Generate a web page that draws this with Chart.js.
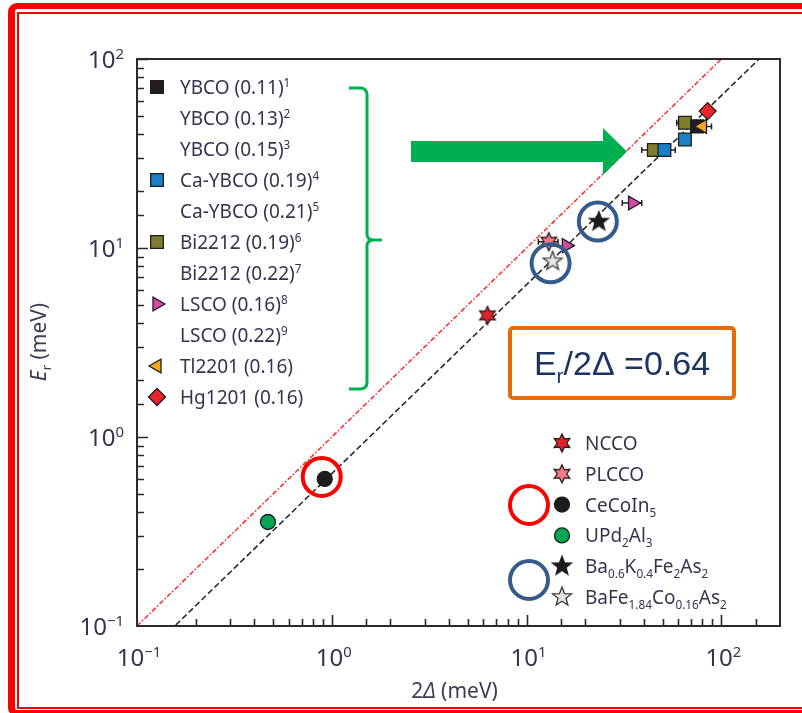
<!DOCTYPE html>
<html>
<head>
<meta charset="utf-8">
<script src="https://cdn.jsdelivr.net/npm/chart.js@4.4.0/dist/chart.umd.min.js"></script>
<style>
  html, body { margin: 0; padding: 0; background: #fff; }
  #wrap { position: relative; width: 802px; height: 713px; overflow: hidden; background: #fff; }
  #chart { position: absolute; left: 0; top: 0; }
  .frame { position: absolute; box-sizing: border-box; border-style: solid; border-color: #ff0000; pointer-events: none; }
  #frameOuter { left: 8px; top: 3px; width: 830px; height: 714px; border-width: 6px 7px 7px 7px; border-radius: 9px; }
  #frameInner { left: 17px; top: 12px; width: 820px; height: 697px; border-width: 2px; }
</style>
</head>
<body>
<div id="wrap">
  <canvas id="chart" width="802" height="713"></canvas>
  <div class="frame" id="frameOuter"></div>
  <div class="frame" id="frameInner"></div>
</div>
<script>
// ---------------------------------------------
// axes
// ---------------------------------------------
const X_MIN = 0.1, X_MAX = 200;
const Y_MIN = 0.1, Y_MAX = 100;
const DECADES = [0.1, 1, 10, 100];
const DECADE_EXP = ["\u22121", "0", "1", "2"];

// Er / 2Δ ratio of the fitted line, and the reference Er = 2Δ line
const FIT_RATIO = 0.64;
const LINE_X = [0.1, 200];

// ---------------------------------------------
// measured points (x = 2Δ, y = Er, meV), xErr = half width of the 2Δ bar
// ---------------------------------------------
const ybcoX = [75];          const ybcoY = [44];       const ybcoXErr = [14];
const caYbcoX = [51, 65];    const caYbcoY = [33, 37.5]; const caYbcoXErr = [7, 0];
const bi2212X = [45, 65];    const bi2212Y = [33, 46];   const bi2212XErr = [6, 6];
const lscoX = [16, 35];      const lscoY = [10.3, 17.3]; const lscoXErr = [0, 4];
const tl2201X = [80];        const tl2201Y = [44];
const hg1201X = [85];        const hg1201Y = [53];
const nccoX = [6.3];         const nccoY = [4.4];
const plccoX = [13];         const plccoY = [10.8];      const plccoXErr = [1.5];
const ceCoIn5X = [0.92];     const ceCoIn5Y = [0.60];
const upd2al3X = [0.47];     const upd2al3Y = [0.355];
const bakX = [23.5];         const bakY = [13.8];
const bafeX = [13.6];        const bafeY = [8.5];

// legend rows, cuprates (label, footnote, dataset key or null)
const cuprateRows = [
  ["YBCO (0.11)", "1", "ybco"],
  ["YBCO (0.13)", "2", null],
  ["YBCO (0.15)", "3", null],
  ["Ca-YBCO (0.19)", "4", "caYbco"],
  ["Ca-YBCO (0.21)", "5", null],
  ["Bi2212 (0.19)", "6", "bi2212"],
  ["Bi2212 (0.22)", "7", null],
  ["LSCO (0.16)", "8", "lsco"],
  ["LSCO (0.22)", "9", null],
  ["Tl2201 (0.16)", "", "tl2201"],
  ["Hg1201 (0.16)", "", "hg1201"]
];

// legend rows, other compounds ([text, kind] parts)
const otherRows = [
  ["ncco", [["NCCO", ""]]],
  ["plcco", [["PLCCO", ""]]],
  ["ceCoIn5", [["CeCoIn", ""], ["5", "sub"]]],
  ["upd2al3", [["UPd", ""], ["2", "sub"], ["Al", ""], ["3", "sub"]]],
  ["bak", [["Ba", ""], ["0.6", "sub"], ["K", ""], ["0.4", "sub"], ["Fe", ""], ["2", "sub"], ["As", ""], ["2", "sub"]]],
  ["bafe", [["BaFe", ""], ["1.84", "sub"], ["Co", ""], ["0.16", "sub"], ["As", ""], ["2", "sub"]]]
];

const FONT = '"Noto Sans", "DejaVu Sans", sans-serif';
const TEXT_COLOR = "#34344c";

const pts = (xs, ys, errs) => xs.map((x, i) => ({ x, y: ys[i], xErr: errs ? errs[i] : 0 }));

// filled star drawn once to an offscreen canvas and used as a pointStyle
function makeStar(n, outer, inner, fill, stroke) {
  const s = Math.ceil(outer * 2 + 4);
  const c = document.createElement("canvas");
  c.width = c.height = s;
  const g = c.getContext("2d");
  g.beginPath();
  for (let i = 0; i < n * 2; i++) {
    const r = i % 2 ? inner : outer;
    const a = -Math.PI / 2 + i * Math.PI / n;
    g.lineTo(s / 2 + r * Math.cos(a), s / 2 + r * Math.sin(a));
  }
  g.closePath();
  g.fillStyle = fill;
  g.fill();
  g.lineWidth = 1.3;
  g.strokeStyle = stroke;
  g.stroke();
  return c;
}

function markerSet(key, label, data, style, color, radius, rotation) {
  return {
    key, label, data, order: 0,
    pointStyle: style, pointRadius: radius, pointRotation: rotation || 0,
    backgroundColor: color, borderColor: "#1e1e1e", borderWidth: 1.3,
    showLine: false
  };
}

const datasets = [
  markerSet("hg1201", "Hg1201", pts(hg1201X, hg1201Y), "rectRot", "#e8242c", 8.5),
  markerSet("tl2201", "Tl2201", pts(tl2201X, tl2201Y), "triangle", "#f4a91c", 8, -90),
  markerSet("ybco", "YBCO", pts(ybcoX, ybcoY, ybcoXErr), "rect", "#231f20", 9),
  markerSet("caYbco", "Ca-YBCO", pts(caYbcoX, caYbcoY, caYbcoXErr), "rect", "#1a7fc4", 9),
  markerSet("bi2212", "Bi2212", pts(bi2212X, bi2212Y, bi2212XErr), "rect", "#7f7d2e", 9),
  markerSet("lsco", "LSCO", pts(lscoX, lscoY, lscoXErr), "triangle", "#d54aa6", 8, 90),
  markerSet("ncco", "NCCO", pts(nccoX, nccoY), makeStar(6, 9, 4.8, "#e0242c", "#2a1a1a"), "#e0242c", 8),
  markerSet("plcco", "PLCCO", pts(plccoX, plccoY, plccoXErr), makeStar(6, 9, 4.8, "#ee7a8a", "#2a1a1a"), "#ee7a8a", 8),
  markerSet("bak", "Ba0.6K0.4Fe2As2", pts(bakX, bakY), makeStar(5, 10, 4.2, "#1c1c1c", "#1c1c1c"), "#1c1c1c", 8),
  markerSet("bafe", "BaFe1.84Co0.16As2", pts(bafeX, bafeY), makeStar(5, 10, 4.2, "#e4e4e4", "#3a3a3a"), "#e4e4e4", 8),
  markerSet("ceCoIn5", "CeCoIn5", pts(ceCoIn5X, ceCoIn5Y), "circle", "#1c1c1c", 7.5),
  markerSet("upd2al3", "UPd2Al3", pts(upd2al3X, upd2al3Y), "circle", "#00a651", 7.5),
  {
    key: "ratio", label: "Er/2Δ", order: 10, showLine: true, pointRadius: 0,
    data: LINE_X.map(x => ({ x, y: FIT_RATIO * x })),
    borderColor: "#2b2b2b", borderWidth: 1.6, borderDash: [6, 3]
  },
  {
    key: "unity", label: "Er = 2Δ", order: 11, showLine: true, pointRadius: 0,
    data: LINE_X.map(x => ({ x, y: x })),
    borderColor: "#ff2a2a", borderWidth: 1.5, borderDash: [5, 2, 1.5, 2]
  }
];

const byKey = k => datasets.find(d => d.key === k);

// ---------------------------------------------
// text helpers (super / subscripts)
// ---------------------------------------------
function richWidth(ctx, parts, size) {
  let w = 0;
  parts.forEach(([t, kind]) => {
    const small = kind === "sup" || kind === "sub";
    ctx.font = `${kind === "it" ? "italic " : ""}${small ? size * 0.62 : size}px ${FONT}`;
    w += ctx.measureText(t).width;
  });
  return w;
}

function drawRich(ctx, parts, x, y, size) {
  let cx = x;
  parts.forEach(([t, kind]) => {
    const small = kind === "sup" || kind === "sub";
    ctx.font = `${kind === "it" ? "italic " : ""}${small ? size * 0.62 : size}px ${FONT}`;
    const dy = kind === "sup" ? -size * 0.36 : kind === "sub" ? size * 0.26 : 0;
    ctx.fillText(t, cx, y + dy);
    cx += ctx.measureText(t).width;
  });
}

function drawPointMarker(ctx, ds, x, y) {
  ctx.save();
  ctx.fillStyle = ds.backgroundColor;
  ctx.strokeStyle = ds.borderColor;
  ctx.lineWidth = ds.borderWidth;
  Chart.helpers.drawPoint(ctx, {
    pointStyle: ds.pointStyle, rotation: ds.pointRotation,
    radius: ds.pointRadius, borderWidth: ds.borderWidth
  }, x, y);
  ctx.restore();
}

// ---------------------------------------------
// horizontal 2Δ error bars, under the markers
// ---------------------------------------------
const errorBarPlugin = {
  id: "errorBarPlugin",
  beforeDatasetsDraw(chart) {
    const { ctx, scales: { x, y } } = chart;
    ctx.save();
    ctx.strokeStyle = "#1e1e1e";
    ctx.lineWidth = 1.5;
    chart.data.datasets.forEach(ds => {
      ds.data.forEach(p => {
        if (!p.xErr) return;
        const x0 = x.getPixelForValue(p.x - p.xErr);
        const x1 = x.getPixelForValue(p.x + p.xErr);
        const py = y.getPixelForValue(p.y);
        ctx.beginPath();
        ctx.moveTo(x0, py); ctx.lineTo(x1, py);
        ctx.moveTo(x0, py - 3); ctx.lineTo(x0, py + 3);
        ctx.moveTo(x1, py - 3); ctx.lineTo(x1, py + 3);
        ctx.stroke();
      });
    });
    ctx.restore();
  }
};

// ---------------------------------------------
// frame, inward ticks, tick labels, titles
// ---------------------------------------------
const axesPlugin = {
  id: "axesPlugin",
  afterDraw(chart) {
    const { ctx, chartArea: a, scales: { x, y } } = chart;
    const isMajor = v => Math.abs(Math.log10(v) - Math.round(Math.log10(v))) < 1e-6;

    ctx.save();
    ctx.strokeStyle = "#2a2a2a";
    ctx.lineWidth = 2;
    ctx.strokeRect(a.left, a.top, a.right - a.left, a.bottom - a.top);

    ctx.lineWidth = 1.6;
    ctx.beginPath();
    x.ticks.forEach(t => {
      if (t.value <= X_MIN || t.value >= X_MAX) return;
      const px = Math.round(x.getPixelForValue(t.value)) + 0.5;
      ctx.moveTo(px, a.bottom);
      ctx.lineTo(px, a.bottom - (isMajor(t.value) ? 11 : 7));
    });
    y.ticks.forEach(t => {
      if (t.value <= Y_MIN || t.value > Y_MAX) return;
      const py = Math.round(y.getPixelForValue(t.value)) + 0.5;
      ctx.moveTo(a.left, py);
      ctx.lineTo(a.left + (isMajor(t.value) ? 11 : 7), py);
    });
    ctx.stroke();

    // decade labels
    const size = 24;
    ctx.fillStyle = TEXT_COLOR;
    ctx.textBaseline = "alphabetic";
    ctx.textAlign = "left";
    DECADES.forEach((v, i) => {
      const parts = [["10", ""], [DECADE_EXP[i], "sup"]];
      const w = richWidth(ctx, parts, size);
      const px = x.getPixelForValue(v);
      drawRich(ctx, parts, px - w / 2 + 2, a.bottom + 40, size);
      const py = y.getPixelForValue(v);
      drawRich(ctx, parts, a.left - 13 - w, py + 9, size);
    });

    // axis titles
    const ts = 21;
    ctx.fillStyle = "#3c3c50";
    const xt = [["2", ""], ["\u0394", "it"], [" (meV)", ""]];
    const xw = richWidth(ctx, xt, ts);
    drawRich(ctx, xt, (a.left + a.right) / 2 - xw / 2 - 4, 698, ts);

    const yt = [["E", "it"], ["r", "sub"], [" (meV)", ""]];
    const yw = richWidth(ctx, yt, ts);
    ctx.translate(46, 342);
    ctx.rotate(-Math.PI / 2);
    drawRich(ctx, yt, -yw / 2, 0, ts);
    ctx.restore();
  }
};

// ---------------------------------------------
// legends, bracket, arrow, ratio box, rings
// ---------------------------------------------
const notesPlugin = {
  id: "notesPlugin",
  afterDraw(chart) {
    const { ctx, scales: { x, y } } = chart;
    ctx.save();
    ctx.textBaseline = "alphabetic";
    ctx.textAlign = "left";

    // cuprate legend
    const ls = 19;
    cuprateRows.forEach(([text, note, key], i) => {
      const ry = 87 + i * 31;
      if (key) drawPointMarker(ctx, byKey(key), 157, ry);
      ctx.fillStyle = TEXT_COLOR;
      const parts = [[text, ""]];
      if (note) parts.push([note, "sup"]);
      drawRich(ctx, parts, 180, ry + 7, ls);
    });

    // other compounds legend
    otherRows.forEach(([key, parts], i) => {
      const ry = 443 + i * 30.8;
      drawPointMarker(ctx, byKey(key), 562, ry);
      ctx.fillStyle = TEXT_COLOR;
      drawRich(ctx, parts, 585, ry + 7, ls);
    });

    // green brace grouping the cuprates
    ctx.strokeStyle = "#00b050";
    ctx.lineWidth = 3;
    ctx.lineJoin = "round";
    ctx.beginPath();
    ctx.moveTo(349, 88);
    ctx.lineTo(360, 88);
    ctx.quadraticCurveTo(367, 88, 367, 95);
    ctx.lineTo(367, 234);
    ctx.quadraticCurveTo(367, 240, 374, 240);
    ctx.lineTo(382, 240);
    ctx.moveTo(374, 240);
    ctx.quadraticCurveTo(367, 240, 367, 246);
    ctx.lineTo(367, 382);
    ctx.quadraticCurveTo(367, 389, 360, 389);
    ctx.lineTo(349, 389);
    ctx.stroke();

    // green arrow
    ctx.fillStyle = "#00b050";
    ctx.beginPath();
    ctx.moveTo(411, 141);
    ctx.lineTo(603, 141);
    ctx.lineTo(603, 128);
    ctx.lineTo(627, 151.5);
    ctx.lineTo(603, 175);
    ctx.lineTo(603, 162);
    ctx.lineTo(411, 162);
    ctx.closePath();
    ctx.fill();

    // ratio box
    ctx.strokeStyle = "#e46c0a";
    ctx.lineWidth = 4;
    ctx.beginPath();
    ctx.roundRect(510, 328, 224, 70, 3);
    ctx.fillStyle = "#fff";
    ctx.fill();
    ctx.stroke();
    ctx.fillStyle = "#1d3461";
    const bs = 34;
    const boxText = [["E", ""], ["r", "sub"], ["/2\u0394 =0.64", ""]];
    const drawBoxText = (parts, x0, y0) => {
      let cx = x0;
      parts.forEach(([t, kind]) => {
        const small = kind === "sub";
        ctx.font = `${small ? bs * 0.62 : bs}px "Liberation Sans", Arial, sans-serif`;
        ctx.fillText(t, cx, y0 + (small ? bs * 0.24 : 0));
        cx += ctx.measureText(t).width;
      });
      return cx - x0;
    };
    ctx.save();
    ctx.globalAlpha = 0;
    const bw = drawBoxText(boxText, 0, 0);
    ctx.restore();
    drawBoxText(boxText, 622 - bw / 2, 375);

    // rings marking the heavy-fermion and pnictide points
    const ring = (cx, cy, color) => {
      ctx.strokeStyle = color;
      ctx.lineWidth = 4;
      ctx.beginPath();
      ctx.arc(cx, cy, 19, 0, Math.PI * 2);
      ctx.stroke();
    };
    const red = "#ff0000", blue = "#345b8c";
    ring(x.getPixelForValue(ceCoIn5X[0]) - 3, y.getPixelForValue(ceCoIn5Y[0]) - 2, red);
    ring(x.getPixelForValue(bakX[0]) - 1, y.getPixelForValue(bakY[0]), blue);
    ring(x.getPixelForValue(bafeX[0]) - 2, y.getPixelForValue(bafeY[0]) + 2, blue);
    ring(529, 505, red);
    ring(529, 580, blue);
    ctx.restore();
  }
};

new Chart(document.getElementById("chart"), {
  type: "scatter",
  data: { datasets },
  options: {
    responsive: false,
    animation: false,
    events: [],
    layout: { padding: { left: 137, top: 59, right: 22, bottom: 87 } },
    plugins: { legend: { display: false }, tooltip: { enabled: false } },
    scales: {
      x: {
        type: "logarithmic", min: X_MIN, max: X_MAX,
        ticks: { display: false },
        grid: { display: false, drawTicks: false },
        border: { display: false }
      },
      y: {
        type: "logarithmic", min: Y_MIN, max: Y_MAX,
        ticks: { display: false },
        grid: { display: false, drawTicks: false },
        border: { display: false }
      }
    }
  },
  plugins: [errorBarPlugin, axesPlugin, notesPlugin]
});
</script>
</body>
</html>
